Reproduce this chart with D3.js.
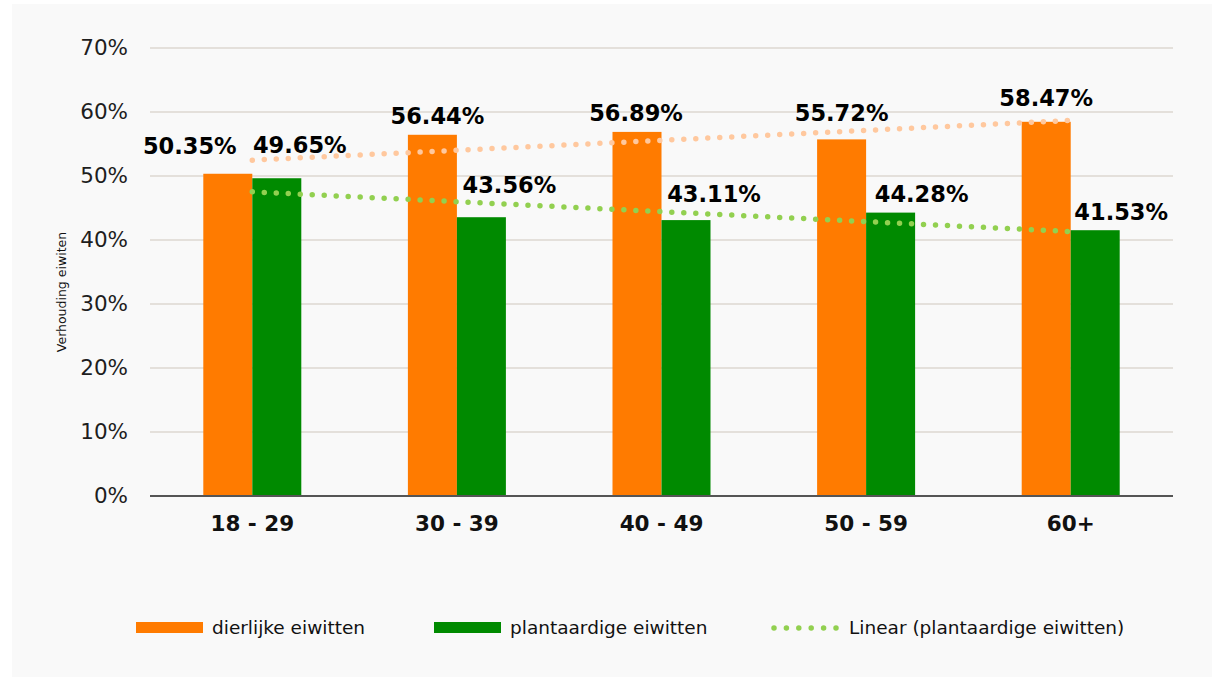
<!DOCTYPE html>
<html>
<head>
<meta charset="utf-8">
<script src="https://cdn.jsdelivr.net/npm/d3@7"></script>
<style>
  body { margin:0; background:#ffffff; font-family:"DejaVu Sans", Verdana, sans-serif; }
</style>
</head>
<body>
<div id="chart"></div>
<script>
// data
var categories = ["18 - 29", "30 - 39", "40 - 49", "50 - 59", "60+"];
var seriesNames = ["dierlijke eiwitten", "plantaardige eiwitten"];
var dierlijke = [50.35, 56.44, 56.89, 55.72, 58.47];
var plantaardig = [49.65, 43.56, 43.11, 44.28, 41.53];
var yTicks = [0, 10, 20, 30, 40, 50, 60, 70];

// label nudges (the labels in the original were moved by hand)
var nudgeDier = [[-38, -10], [5, -1], [-1, -1], [0, -8], [0, -6]];
var nudgePlant = [[23, -15], [28, -14], [28, -8], [31, -1], [26, 0]];

var colors = {dier: "#ff7b00", plant: "#008a00", trendDier: "#ffc89e", trendPlant: "#92d050"};

var W = 1224, H = 681;
var margin = {top: 48, left: 150, right: 51, bottom: 185};
var width = W - margin.left - margin.right,
    height = H - margin.top - margin.bottom;

var svg = d3.select("#chart")
  .append("svg")
    .attr("width", W)
    .attr("height", H);

// panel background
svg.append("rect")
  .attr("x", 12).attr("y", 4)
  .attr("width", 1200).attr("height", 673)
  .attr("fill", "#f9f9f9");

var g = svg.append("g")
  .attr("transform", "translate(" + margin.left + "," + margin.top + ")");

var x0 = d3.scaleBand()
  .domain(categories)
  .range([0, width])
  .padding(0);

var barW = 49;
var x1 = d3.scaleBand()
  .domain(seriesNames)
  .range([0, barW * 2]);
var groupOffset = (x0.bandwidth() - barW * 2) / 2;

var y = d3.scaleLinear()
  .domain([0, 70])
  .range([height, 0]);

// gridlines
g.append("g")
  .selectAll("line")
  .data(yTicks.filter(function(d){ return d > 0; }))
  .enter()
  .append("line")
    .attr("x1", 0)
    .attr("x2", width)
    .attr("y1", function(d){ return y(d); })
    .attr("y2", function(d){ return y(d); })
    .style("stroke", "#cfc7bd")
    .style("stroke-width", 1);

// y axis labels
var yAxis = g.append("g")
  .attr("class", "yAxis")
  .call(d3.axisLeft(y).tickValues(yTicks).tickFormat(function(d){ return d + "%"; }).tickSize(0).tickPadding(22));
yAxis.select(".domain").remove();
yAxis.selectAll("text")
  .style("font-family", "DejaVu Sans")
  .style("font-size", "21.5px")
  .style("fill", "#1e1e1e");

// bars
var groups = g.selectAll(".grp")
  .data(categories)
  .enter()
  .append("g")
    .attr("class", "grp")
    .attr("transform", function(d){ return "translate(" + (x0(d) + groupOffset) + ",0)"; });

groups.append("rect")
  .attr("x", x1(seriesNames[0]))
  .attr("width", x1.bandwidth())
  .attr("y", function(d, i){ return y(dierlijke[i]); })
  .attr("height", function(d, i){ return height - y(dierlijke[i]); })
  .attr("fill", colors.dier);

groups.append("rect")
  .attr("x", x1(seriesNames[1]))
  .attr("width", x1.bandwidth())
  .attr("y", function(d, i){ return y(plantaardig[i]); })
  .attr("height", function(d, i){ return height - y(plantaardig[i]); })
  .attr("fill", colors.plant);

// x axis line
g.append("line")
  .attr("x1", 0).attr("x2", width)
  .attr("y1", y(0)).attr("y2", y(0))
  .style("stroke", "#555555")
  .style("stroke-width", 2);

// x labels
var xAxis = g.append("g")
  .attr("class", "xAxis")
  .attr("transform", "translate(0," + height + ")")
  .call(d3.axisBottom(x0).tickSize(0).tickPadding(20));
xAxis.select(".domain").remove();
xAxis.selectAll("text")
  .style("font-family", "DejaVu Sans")
  .style("font-weight", "bold")
  .style("font-size", "21.5px")
  .style("fill", "#111111");

// linear trend (least squares)
function linearFit(vals){
  var n = vals.length;
  var xs = vals.map(function(d, i){ return i + 1; });
  var mx = d3.mean(xs), my = d3.mean(vals);
  var num = 0, den = 0;
  for (var i = 0; i < n; i++){
    num += (xs[i] - mx) * (vals[i] - my);
    den += (xs[i] - mx) * (xs[i] - mx);
  }
  var slope = num / den;
  return xs.map(function(xv){ return my + slope * (xv - mx); });
}

var trendLine = d3.line()
  .x(function(d, i){ return x0(categories[i]) + x0.bandwidth() / 2; })
  .y(function(d){ return y(d); });

g.append("path")
  .datum(linearFit(dierlijke))
  .attr("d", trendLine)
  .attr("fill", "none")
  .attr("stroke", colors.trendDier)
  .attr("stroke-width", 5.5)
  .attr("stroke-linecap", "round")
  .attr("stroke-dasharray", "0,12");

g.append("path")
  .datum(linearFit(plantaardig))
  .attr("d", trendLine)
  .attr("fill", "none")
  .attr("stroke", colors.trendPlant)
  .attr("stroke-width", 5.5)
  .attr("stroke-linecap", "round")
  .attr("stroke-dasharray", "0,12");

// data labels
function fmt(v){ return v.toFixed(2) + "%"; }

groups.append("text")
  .attr("x", function(d, i){ return x1(seriesNames[0]) + x1.bandwidth() / 2 + nudgeDier[i][0]; })
  .attr("y", function(d, i){ return y(dierlijke[i]) - 10 + nudgeDier[i][1]; })
  .attr("text-anchor", "middle")
  .style("font-family", "DejaVu Sans")
  .style("font-weight", "bold")
  .style("font-size", "22.5px")
  .style("fill", "#000000")
  .text(function(d, i){ return fmt(dierlijke[i]); });

groups.append("text")
  .attr("x", function(d, i){ return x1(seriesNames[1]) + x1.bandwidth() / 2 + nudgePlant[i][0]; })
  .attr("y", function(d, i){ return y(plantaardig[i]) - 10 + nudgePlant[i][1]; })
  .attr("text-anchor", "middle")
  .style("font-family", "DejaVu Sans")
  .style("font-weight", "bold")
  .style("font-size", "22.5px")
  .style("fill", "#000000")
  .text(function(d, i){ return fmt(plantaardig[i]); });

// y axis title
svg.append("text")
  .attr("transform", "translate(66,292) rotate(-90)")
  .attr("text-anchor", "middle")
  .style("font-family", "DejaVu Sans")
  .style("font-size", "12.5px")
  .style("fill", "#111111")
  .text("Verhouding eiwiten");

// legend
var legendItems = [
  {label: seriesNames[0], type: "rect", color: colors.dier, x: 136},
  {label: seriesNames[1], type: "rect", color: colors.plant, x: 434},
  {label: "Linear (plantaardige eiwitten)", type: "dots", color: colors.trendPlant, x: 772}
];

var legend = svg.append("g")
  .attr("transform", "translate(0,628)");

legendItems.forEach(function(it){
  if (it.type == "rect"){
    legend.append("rect")
      .attr("x", it.x).attr("y", -6)
      .attr("width", 67).attr("height", 11)
      .attr("fill", it.color);
    legend.append("text")
      .attr("x", it.x + 76).attr("y", 0)
      .attr("dy", "0.35em")
      .style("font-family", "DejaVu Sans")
      .style("font-size", "18.5px")
      .style("fill", "#111111")
      .text(it.label);
  } else {
    legend.append("line")
      .attr("x1", it.x + 2).attr("x2", it.x + 64)
      .attr("y1", 0).attr("y2", 0)
      .attr("stroke", it.color)
      .attr("stroke-width", 5.5)
      .attr("stroke-linecap", "round")
      .attr("stroke-dasharray", "0,12.4");
    legend.append("text")
      .attr("x", it.x + 77).attr("y", 0)
      .attr("dy", "0.35em")
      .style("font-family", "DejaVu Sans")
      .style("font-size", "18.5px")
      .style("fill", "#111111")
      .text(it.label);
  }
});
</script>
</body>
</html>
